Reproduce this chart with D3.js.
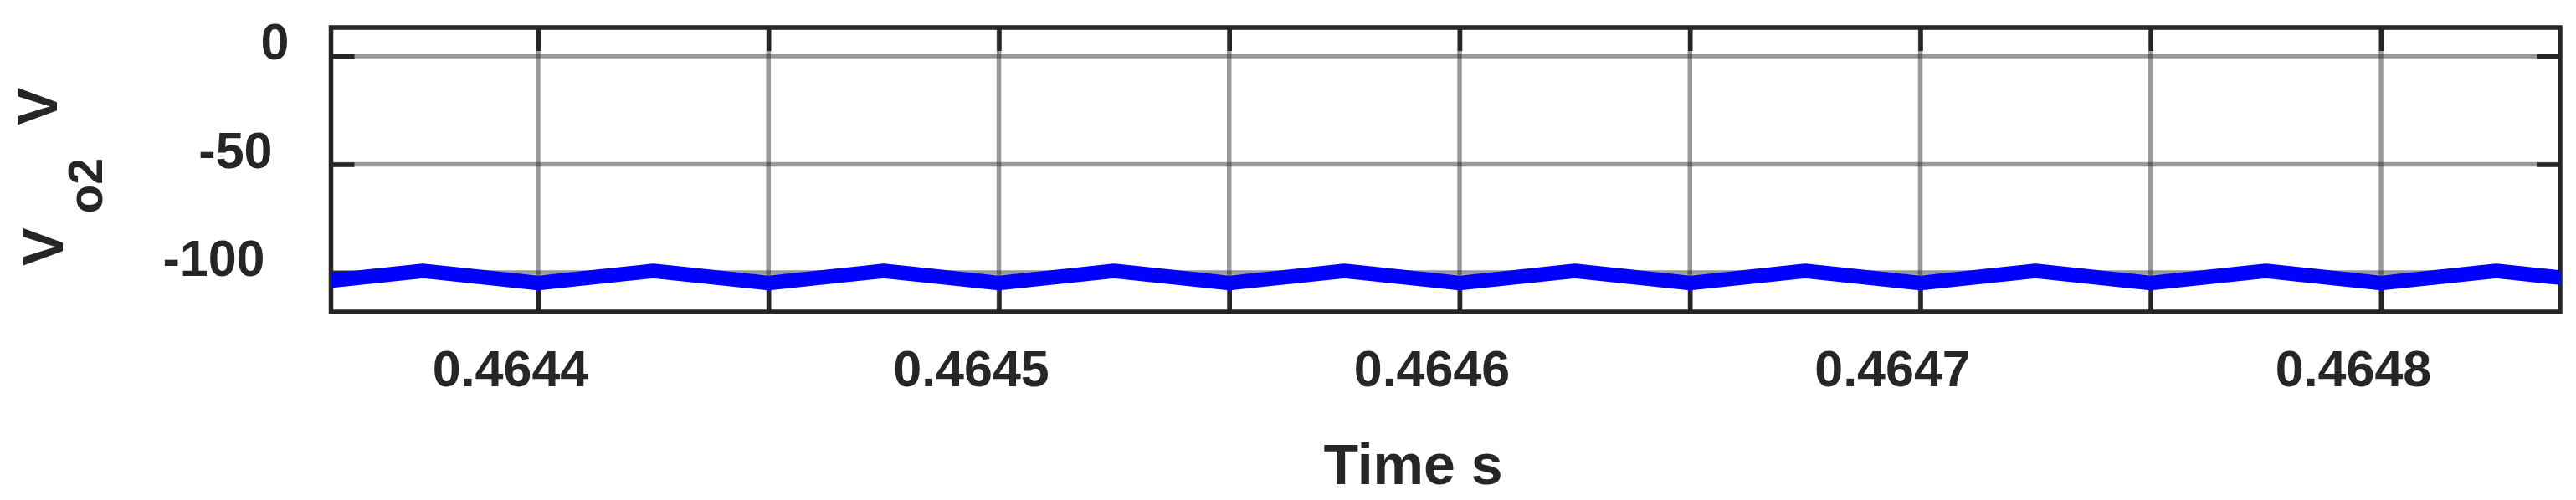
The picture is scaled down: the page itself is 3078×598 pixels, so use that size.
<!DOCTYPE html>
<html>
<head>
<meta charset="utf-8">
<script src="https://cdn.jsdelivr.net/npm/d3@7"></script>
<style>
  html, body { margin: 0; padding: 0; background: #ffffff; }
  svg { display: block; }
  text { font-family: "Liberation Sans", Arial, Helvetica, sans-serif; font-weight: bold; fill: #262626; }
</style>
</head>
<body>
<svg id="chart" width="3078" height="598"></svg>
<script>
// ---- data ----
const timeS = [0.46435, 0.464375, 0.4644, 0.464425, 0.46445, 0.464475, 0.4645, 0.464525,
               0.46455, 0.464575, 0.4646, 0.464625, 0.46465, 0.464675, 0.4647, 0.464725,
               0.46475, 0.464775, 0.4648, 0.464825, 0.46485];
const vo2   = [-104.8, -99.2, -104.8, -99.2, -104.8, -99.2, -104.8, -99.2,
               -104.8, -99.2, -104.8, -99.2, -104.8, -99.2, -104.8, -99.2,
               -104.8, -99.2, -104.8, -99.2, -104.8];
const xTicks = [0.4644, 0.46445, 0.4645, 0.46455, 0.4646, 0.46465, 0.4647, 0.46475, 0.4648];
const xTickLabels = ["0.4644", "0.4645", "0.4646", "0.4647", "0.4648"];
const xLabelValues = [0.4644, 0.4645, 0.4646, 0.4647, 0.4648];
const yTicks = [0, -50, -100];
const yTickLabels = ["0", "-50", "-100"];
const xDomain = [0.46435504, 0.46483887];
const yDomain = [-118.1, 13.1];

// ---- layout ----
const W = 3078, H = 598;
const plot = { left: 395.5, right: 3059, top: 33, bottom: 373 };
const dark = "#262626";
const tickLen = 28;
const axisW = 5.5;
const yLabelAnchorX = [345.5, 325.5, 316.5]; // per-label right edges as in reference

const svg = d3.select("#chart");
svg.append("rect").attr("width", W).attr("height", H).attr("fill", "#fff");

const x = d3.scaleLinear().domain(xDomain).range([plot.left, plot.right]);
const y = d3.scaleLinear().domain(yDomain).range([plot.bottom, plot.top]);

// grid
const grid = svg.append("g").attr("stroke", dark).attr("stroke-opacity", 0.47).attr("stroke-width", axisW);
grid.selectAll("line.gx").data(xTicks).join("line").attr("class", "gx")
  .attr("x1", d => x(d)).attr("x2", d => x(d)).attr("y1", plot.top).attr("y2", plot.bottom);
grid.selectAll("line.gy").data(yTicks).join("line").attr("class", "gy")
  .attr("x1", plot.left).attr("x2", plot.right).attr("y1", d => y(d)).attr("y2", d => y(d));

// axes (d3 axes with inward ticks on all four sides)
function styleAxis(g) {
  g.select(".domain").remove();
  g.selectAll(".tick line").attr("stroke", dark).attr("stroke-width", axisW);
  g.selectAll(".tick text").remove();
}
svg.append("g").attr("transform", `translate(0,${plot.bottom})`)
  .call(d3.axisBottom(x).tickValues(xTicks).tickSizeInner(-tickLen).tickSizeOuter(0)).call(styleAxis);
svg.append("g").attr("transform", `translate(0,${plot.top})`)
  .call(d3.axisTop(x).tickValues(xTicks).tickSizeInner(-tickLen).tickSizeOuter(0)).call(styleAxis);
svg.append("g").attr("transform", `translate(${plot.left},0)`)
  .call(d3.axisLeft(y).tickValues(yTicks).tickSizeInner(-tickLen).tickSizeOuter(0)).call(styleAxis);
svg.append("g").attr("transform", `translate(${plot.right},0)`)
  .call(d3.axisRight(y).tickValues(yTicks).tickSizeInner(-tickLen).tickSizeOuter(0)).call(styleAxis);

// box
svg.append("rect")
  .attr("x", plot.left).attr("y", plot.top)
  .attr("width", plot.right - plot.left).attr("height", plot.bottom - plot.top)
  .attr("fill", "none").attr("stroke", dark).attr("stroke-width", axisW);

// data line (clipped to plot area)
svg.append("clipPath").attr("id", "clip").append("rect")
  .attr("x", plot.left).attr("y", plot.top)
  .attr("width", plot.right - plot.left).attr("height", plot.bottom - plot.top);
const pts = timeS.map((t, i) => [t, vo2[i]]);
svg.append("path")
  .datum(pts)
  .attr("clip-path", "url(#clip)")
  .attr("fill", "none")
  .attr("stroke", "#0000ff")
  .attr("stroke-width", 17.5)
  .attr("stroke-linejoin", "round")
  .attr("d", d3.line().x(d => x(d[0])).y(d => y(d[1])));

// x tick labels
svg.append("g").selectAll("text").data(xLabelValues).join("text")
  .attr("x", d => x(d) - 33)
  .attr("y", 462)
  .attr("text-anchor", "middle")
  .attr("font-size", 61)
  .text((d, i) => xTickLabels[i]);

// y tick labels
svg.append("g").selectAll("text").data(yTicks).join("text")
  .attr("x", (d, i) => yLabelAnchorX[i])
  .attr("y", d => y(d) + 4)
  .attr("text-anchor", "end")
  .attr("font-size", 61)
  .text((d, i) => yTickLabels[i]);

// x axis title
svg.append("text")
  .attr("x", 1688.5).attr("y", 579)
  .attr("text-anchor", "middle")
  .attr("font-size", 68)
  .text("Time s");

// y axis title: V_{o2} V, rotated
svg.append("text").attr("transform", "translate(75,318) rotate(-90)")
  .attr("font-size", 68).text("V");
svg.append("text").attr("transform", "translate(122,255.5) rotate(-90)")
  .attr("font-size", 57).text("o2");
svg.append("text").attr("transform", "translate(68,150) rotate(-90)")
  .attr("font-size", 68).text("V");
</script>
</body>
</html>
